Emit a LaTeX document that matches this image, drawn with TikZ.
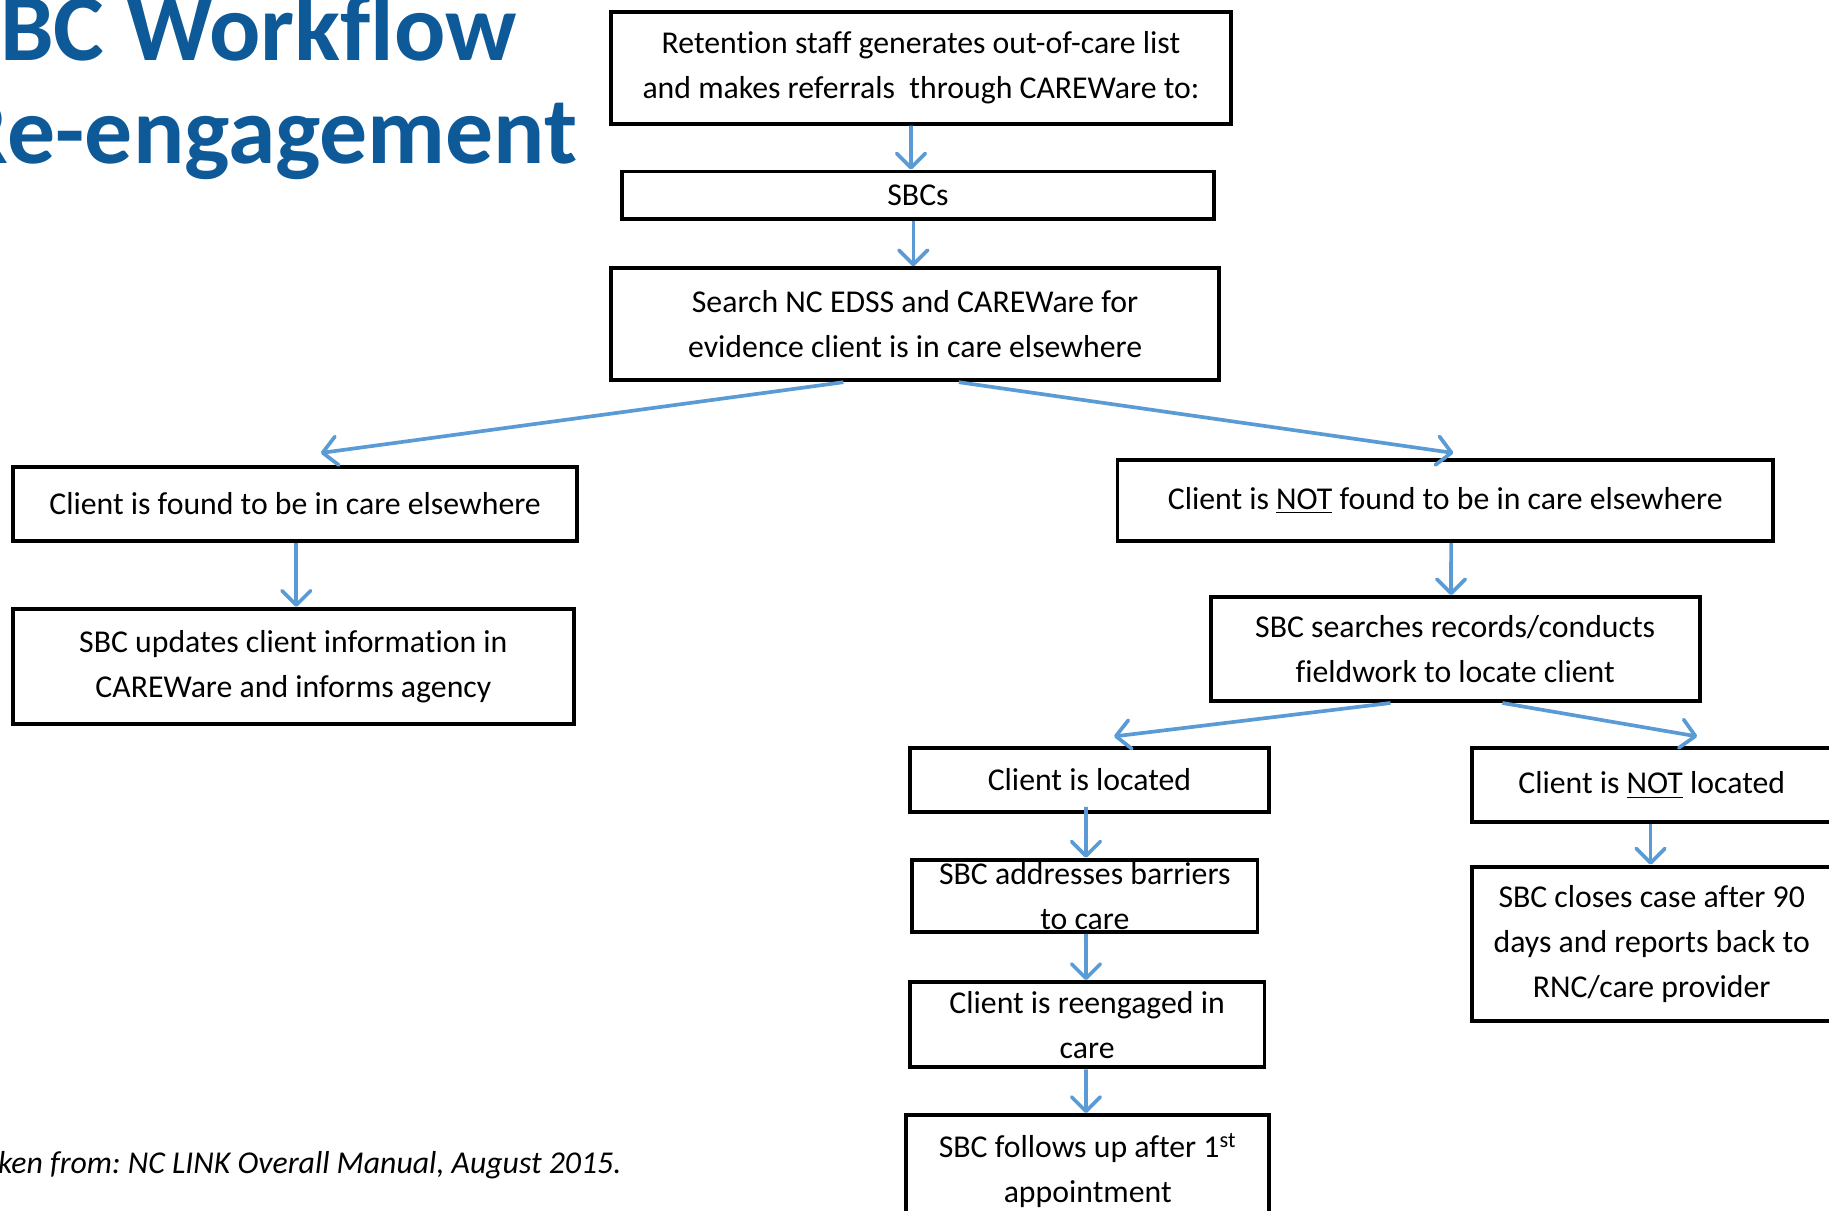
\documentclass[tikz,border=0pt]{standalone}
\usepackage{fontspec}
\setmainfont{Carlito}[Ligatures=NoCommon]
\usetikzlibrary{arrows.meta}
\definecolor{arrowblue}{RGB}{91,155,213}
\definecolor{titleblue}{RGB}{14,90,152}
\frenchspacing

\tikzset{
  box/.style={draw, line width=1.9pt, inner sep=0pt, align=center, font=\fontsize{15.5}{21.9}\selectfont},
  arr/.style={draw=arrowblue, line width=1.8pt, -{Straight Barb[length=7pt,width=14pt,round]}},
  heading/.style={anchor=base west, inner sep=0pt, text=titleblue, font=\fontsize{46.7}{50}\selectfont\bfseries},
}

\begin{document}
\begin{tikzpicture}
\useasboundingbox (0,0) rectangle (31.36,-20.76);
\clip (0,0) rectangle (31.36,-20.76);

\node[heading] (title1) at (-0.78,-1.04) {SBC Workflow};
\node[heading] (title2) at (-0.78,-2.8) {Re-engagement};
\node[anchor=base west, inner sep=0pt, font=\fontsize{15.5}{21.9}\selectfont\itshape] (source) at (-0.54,-20.12) {Taken from: NC LINK Overall Manual, August 2015.};

\node[box, minimum width=10.62cm, minimum height=1.92cm] (retain) at (15.79,-1.16) {Retention staff generates out-of-care list\\and makes referrals\ \ through CAREWare to:};
\node[box, minimum width=10.16cm, minimum height=0.82cm] (sbcs) at (15.74,-3.35) {SBCs};
\node[box, minimum width=10.42cm, minimum height=1.92cm] (search) at (15.69,-5.56) {Search NC EDSS and CAREWare for\\evidence client is in care elsewhere};
\node[box, minimum width=9.68cm, minimum height=1.28cm] (found) at (5.06,-8.64) {Client is found to be in care elsewhere};
\node[box, minimum width=9.62cm, minimum height=1.98cm] (update) at (5.03,-11.43) {SBC updates client information in\\CAREWare and informs agency};
\node[box, minimum width=11.24cm, minimum height=1.40cm] (notfound) at (24.78,-8.58) {Client is \underline{NOT} found to be in care elsewhere};
\node[box, minimum width=8.38cm, minimum height=1.78cm] (fieldwork) at (24.95,-11.13) {SBC searches records/conducts\\fieldwork to locate client};
\node[box, minimum width=6.16cm, minimum height=1.10cm] (located) at (18.68,-13.37) {Client is located};
\node[box, minimum width=5.92cm, minimum height=1.24cm] (barriers) at (18.60,-15.36) {SBC addresses barriers\\to care};
\node[box, minimum width=6.08cm, minimum height=1.46cm] (reengaged) at (18.64,-17.57) {Client is reengaged in\\care};
\node[box, minimum width=6.22cm, minimum height=1.90cm] (followup) at (18.65,-20.07) {SBC follows up after 1\textsuperscript{st}\\appointment};
\node[box, minimum width=6.16cm, minimum height=1.28cm] (notlocated) at (28.32,-13.46) {Client is \underline{NOT} located};
\node[box, minimum width=6.16cm, minimum height=2.64cm] (closes) at (28.32,-16.18) {SBC closes case after 90\\days and reports back to\\RNC/care provider};

\draw[arr] ([xshift=-0.17cm]retain.south) -- ([xshift=-0.12cm]sbcs.north);
\draw[arr] ([xshift=-0.08cm]sbcs.south) -- ([xshift=-0.03cm]search.north);
\draw[arr] ([xshift=-1.23cm]search.south) -- ([xshift=0.44cm,yshift=0.2cm]found.north);
\draw[arr] ([xshift=0.75cm]search.south) -- ([xshift=0.14cm,yshift=0.08cm]notfound.north);
\draw[arr] ([xshift=0.02cm]found.south) -- ([xshift=0.05cm]update.north);
\draw[arr] ([xshift=0.10cm]notfound.south) -- ([xshift=-0.07cm]fieldwork.north);
\draw[arr] ([xshift=-1.11cm]fieldwork.south) -- ([xshift=0.42cm,yshift=0.16cm]located.north);
\draw[arr] ([xshift=0.81cm]fieldwork.south) -- ([xshift=0.78cm,yshift=0.16cm]notlocated.north);
\draw[arr] ([xshift=-0.06cm,yshift=0.12cm]located.south) -- ([xshift=0.02cm]barriers.north);
\draw[arr] ([xshift=0.02cm]barriers.south) -- ([xshift=-0.02cm]reengaged.north);
\draw[arr] ([xshift=-0.02cm]reengaged.south) -- ([xshift=-0.03cm]followup.north);
\draw[arr] ([xshift=-0.02cm]notlocated.south) -- ([xshift=-0.02cm]closes.north);

\end{tikzpicture}
\end{document}
